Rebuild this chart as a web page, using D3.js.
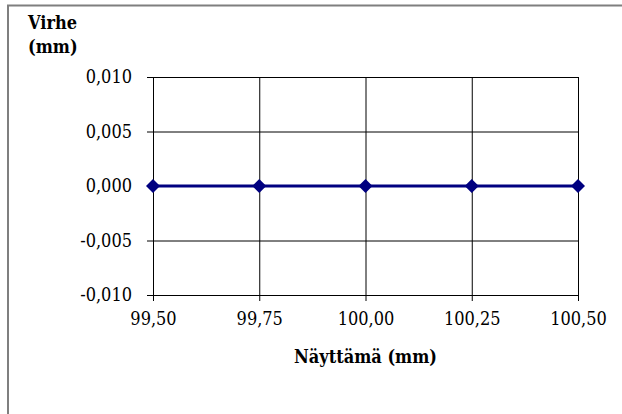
<!DOCTYPE html>
<html><head><meta charset="utf-8">
<script src="https://cdn.jsdelivr.net/npm/d3@7"></script>
<style>body{margin:0;background:#fff}svg{display:block}
svg text{font-family:"DejaVu Serif Condensed","DejaVu Serif",serif !important;font-size:18px;fill:#000}</style>
</head><body>
<svg id="c" width="622" height="414"></svg>
<script>
const xValues = [99.50, 99.75, 100.00, 100.25, 100.50];
const yValues = [0, 0, 0, 0, 0];
const yTicks = [-0.010, -0.005, 0.000, 0.005, 0.010];
const xTicks = [99.50, 99.75, 100.00, 100.25, 100.50];
const yTitle = ["Virhe", "(mm)"];
const xTitle = "Näyttämä (mm)";

const svg = d3.select("#c");
const m = {l:153, r:578, t:77, b:295};

// outer border
svg.append("path").attr("d","M8,414V5.5H622").attr("fill","none").attr("stroke","#7f7f7f").attr("stroke-width",2);

const x = d3.scaleLinear().domain([99.5,100.5]).range([m.l,m.r]);
const y = d3.scaleLinear().domain([-0.010,0.010]).range([m.b,m.t]);
const fmt = (d,dec)=>d.toFixed(dec).replace(".",",");

// y axis with gridlines
const ya = svg.append("g").attr("transform",`translate(${m.l},0)`)
  .call(d3.axisLeft(y).tickValues(yTicks).tickSize(-(m.r-m.l)).tickSizeOuter(0).tickPadding(21).tickFormat(d=>fmt(d,3)));
ya.select(".domain").remove();
ya.selectAll(".tick line").attr("stroke","#000").attr("x1",-6);
ya.selectAll(".tick text").attr("dy","0.33em");

// x axis with gridlines
const xa = svg.append("g").attr("transform",`translate(0,${m.b})`)
  .call(d3.axisBottom(x).tickValues(xTicks).tickSize(-(m.b-m.t)).tickSizeOuter(0).tickPadding(17).tickFormat(d=>fmt(d,2)));
xa.select(".domain").remove();
xa.selectAll(".tick line").attr("stroke","#000").attr("y1",6);
xa.selectAll(".tick text").attr("dy","0.71em");

// line
const data = xValues.map((v,i)=>({x:v,y:yValues[i]}));
svg.append("path").datum(data)
  .attr("d", d3.line().x(d=>x(d.x)).y(d=>y(d.y)))
  .attr("fill","none").attr("stroke","#000080").attr("stroke-width",3);
svg.selectAll(".pt").data(data).join("path").attr("class","pt")
  .attr("transform",d=>`translate(${x(d.x)},${y(d.y)})`)
  .attr("d","M0,-7L7,0L0,7L-7,0Z").attr("fill","#000080");

// titles
svg.append("text").attr("x",28).attr("y",29).attr("font-weight","bold").text(yTitle[0]);
svg.append("text").attr("x",28).attr("y",53).attr("font-weight","bold").text(yTitle[1]);
svg.append("text").attr("x",(m.l+m.r)/2).attr("y",363).attr("text-anchor","middle").attr("font-weight","bold").text(xTitle);
</script>
</body></html>
